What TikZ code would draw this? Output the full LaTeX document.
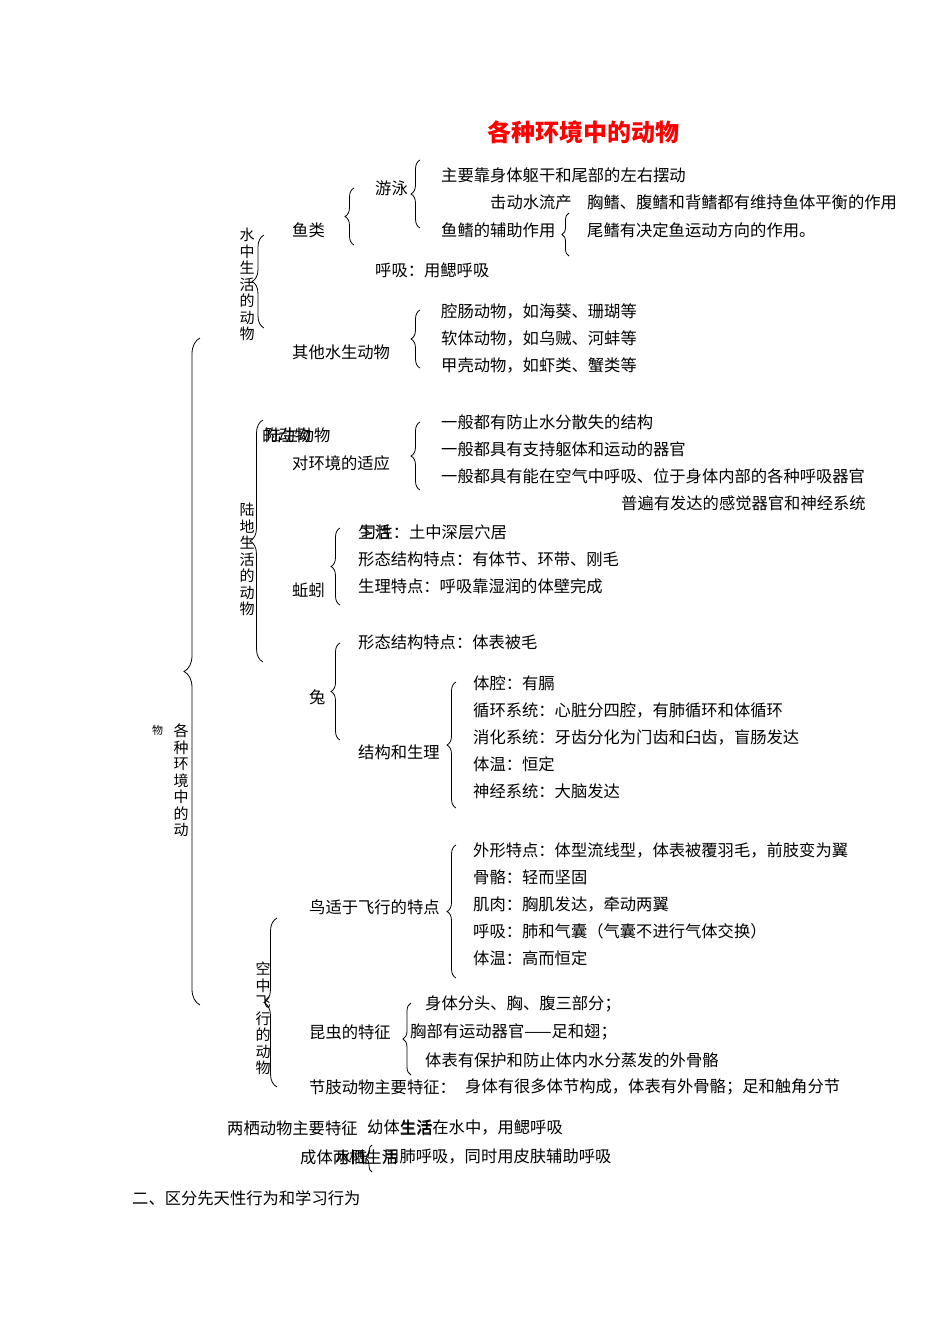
\documentclass[tikz,border=0pt]{standalone}
\usepackage{fontspec}
\setmainfont{Noto Sans CJK SC}
\usetikzlibrary{decorations.pathreplacing}
\tikzset{
 tx/.style={anchor=west,inner sep=0pt,font=\fontsize{16.3}{18}\selectfont},
 vt/.style={anchor=north,inner sep=0pt,align=center,font=\fontsize{15}{16.5}\selectfont},
 br/.style={decorate,decoration={brace,amplitude=#1},line width=0.8pt},
 br/.default=9pt
}
\newcommand{\brc}[4][9pt]{\draw[br=#1] (#2,#4) -- (#2,#3);}
\begin{document}
\begin{tikzpicture}[x=1pt,y=-1pt]
\useasboundingbox (0,0) rectangle (950,1342);
\node[inner sep=0pt,text=red,font=\fontsize{24}{26}\selectfont\bfseries] (title) at (583,132) {各种环境中的动物};
% left column
\node[tx,font=\fontsize{11}{12}\selectfont] (wu) at (152,730) {物};
\node[vt] (gz) at (181,724) {各\\种\\环\\境\\中\\的\\动};
\brc[16pt]{200}{338}{1005}
% water
\node[vt] (sz) at (247,228) {水\\中\\生\\活\\的\\动\\物};
\brc[12pt]{264}{235}{328}
\node[tx] (yl) at (292,230) {鱼类};
\brc{354}{188}{245}
\node[tx] (yy) at (375,188) {游泳};
\brc{420}{160}{228}
\node[tx] (a1) at (441,175) {主要靠身体躯干和尾部的左右摆动};
\node[tx] (a2) at (490,202) {击动水流产};
\node[tx,fill=white,inner sep=1pt] (a3) at (586,202) {胸鳍、腹鳍和背鳍都有维持鱼体平衡的作用};
\node[tx] (a4) at (441,230) {鱼鳍的辅助作用};
\brc[7pt]{569}{213}{256}
\node[tx] (a5) at (587,230) {尾鳍有决定鱼运动方向的作用。};
\node[tx] (a6) at (375,270) {呼吸：用鳃呼吸};
\node[tx] (qt) at (292,352) {其他水生动物};
\brc{420}{310}{368}
\node[tx] (b1) at (441,311) {腔肠动物，如海葵、珊瑚等};
\node[tx] (b2) at (441,338) {软体动物，如乌贼、河蚌等};
\node[tx] (b3) at (441,365) {甲壳动物，如虾类、蟹类等};
% land
\node[vt] (ld) at (247,503) {陆\\地\\生\\活\\的\\动\\物};
\brc[13pt]{263}{420}{662}
\node[tx] (l0a) at (262,435) {的动物};
\node[tx] (l0b) at (265,435) {陆生动物};
\node[tx] (dh) at (292,463) {对环境的适应};
\brc{420}{422}{490}
\node[tx] (c1) at (441,422) {一般都有防止水分散失的结构};
\node[tx] (c2) at (441,449) {一般都具有支持躯体和运动的器官};
\node[tx] (c3) at (441,476) {一般都具有能在空气中呼吸、位于身体内部的各种呼吸器官};
\node[tx] (c4) at (621,503) {普遍有发达的感觉器官和神经系统};
\node[tx] (qy) at (292,590) {蚯蚓};
\brc{340}{528}{605}
\node[tx] (d1a) at (358,532) {生活};
\node[tx] (d1b) at (360,532) {习性：土中深层穴居};
\node[tx] (d2) at (358,559) {形态结构特点：有体节、环带、刚毛};
\node[tx] (d3) at (358,586) {生理特点：呼吸靠湿润的体壁完成};
\node[tx] (tu) at (309,697) {兔};
\brc{340}{643}{740}
\node[tx] (e1) at (358,642) {形态结构特点：体表被毛};
\node[tx] (e2) at (358,752) {结构和生理};
\brc{456}{682}{808}
\node[tx] (f1) at (473,683) {体腔：有膈};
\node[tx] (f2) at (473,710) {循环系统：心脏分四腔，有肺循环和体循环};
\node[tx] (f3) at (473,737) {消化系统：牙齿分化为门齿和臼齿，盲肠发达};
\node[tx] (f4) at (473,764) {体温：恒定};
\node[tx] (f5) at (473,791) {神经系统：大脑发达};
% air
\node[vt] (kz) at (263,962) {空\\中\\飞\\行\\的\\动\\物};
\brc[13pt]{277}{918}{1087}
\node[tx] (nf) at (309,907) {鸟适于飞行的特点};
\brc{456}{845}{978}
\node[tx] (g1) at (473,850) {外形特点：体型流线型，体表被覆羽毛，前肢变为翼};
\node[tx] (g2) at (473,877) {骨骼：轻而坚固};
\node[tx] (g3) at (473,904) {肌肉：胸肌发达，牵动两翼};
\node[tx] (g4) at (473,931) {呼吸：肺和气囊（气囊不进行气体交换）};
\node[tx] (g5) at (473,958) {体温：高而恒定};
\node[tx] (kc) at (309,1032) {昆虫的特征};
\brc[8pt]{411}{1003}{1075}
\node[tx] (h1) at (425,1004) {身体分头、胸、腹三部分；};
\node[tx] (h2) at (410,1032) {胸部有运动器官——足和翅；};
\node[tx] (h3) at (425,1060) {体表有保护和防止体内水分蒸发的外骨骼};
\node[tx] (jz) at (309,1087) {节肢动物主要特征：};
\node[tx] (jz2) at (465,1087) {身体有很多体节构成，体表有外骨骼；足和触角分节};
% bottom
\node[tx] (lq) at (227,1128) {两栖动物主要特征};
\node[tx] (lq1) at (367,1128) {幼体生活在水中，用鳃呼吸};
\node[tx] (lq1b) at (400,1128) {生活};
\node[tx] (lq2) at (300,1157) {成体两栖生活};
\node[tx] (lq2b) at (335,1157) {水陆};
\brc[6pt]{372}{1145}{1172}
\node[tx] (lq3) at (383,1157) {用肺呼吸，同时用皮肤辅助呼吸};
\node[tx] (sec) at (132,1198) {二、区分先天性行为和学习行为};
\end{tikzpicture}
\end{document}
